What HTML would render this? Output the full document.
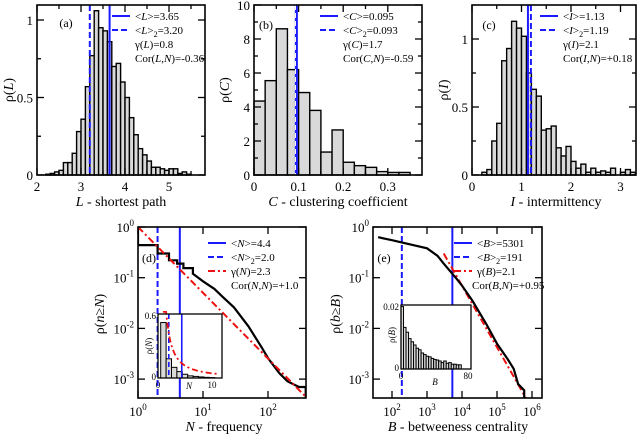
<!DOCTYPE html>
<html><head><meta charset="utf-8"><style>
html,body{margin:0;padding:0;background:#fff;width:640px;height:434px;overflow:hidden}
svg{font-family:"Liberation Serif",serif}
</style></head><body>
<svg id="fig" width="640" height="434" xmlns="http://www.w3.org/2000/svg"></svg>
<script>
// ---------- data ----------
const aStart = 2.2, aWidth = 0.1;
const aValues = [0.005,0.01,0.02,0.03,0.08,0.08,0.14,0.28,0.36,0.57,0.77,1.06,0.95,0.93,0.86,0.70,0.72,0.60,0.50,0.37,0.26,0.17,0.13,0.09,0.05,0.05,0.04,0.03,0.04,0.04,0.01,0.02,0.005];
const aMean = 3.65, aMean2 = 3.20;
const aXTicks = [2,3,4,5];
const aYTicks = [0,0.5,1];

const bStart = 0, bWidth = 0.025;
const bValues = [4.35,5.55,8.6,6.2,4.85,3.8,1.35,2.65,0.75,0.55,0.45,0.2,0.15,0.15];
const bMean = 0.095, bMean2 = 0.093;
const bXTicks = [0,0.1,0.2,0.3];
const bYTicks = [0,2,4,6,8,10];

const cStart = 0.2, cWidth = 0.1;
const cValues = [0.02,0.04,0.25,0.38,0.84,0.93,1.13,1.08,1.02,0.75,0.63,0.58,0.33,0.34,0.36,0.2,0.14,0.21,0.1,0.05,0.08,0.02,0.05,0.02,0.03,0.02,0.05,0.0,0.02,0.04,0.02];
const cMean = 1.13, cMean2 = 1.19;
const cXTicks = [0,1,2,3];
const cYTicks = [0,0.5,1];

const dN = [1,1,2,2,3,3,4,4,5,5,7,7,10,15,20,30,50,80,100,150,200,300,380,380];
const dP = [1,0.44,0.44,0.30,0.30,0.22,0.22,0.19,0.19,0.155,0.155,0.12,0.085,0.06,0.042,0.026,0.011,0.0042,0.0026,0.0013,0.0009,0.0007,0.0007,0.0004];
const dFitN = [1,380];
const dFitP = [1,0.00045];
const dMean = 4.4, dMean2 = 2.0;
const dInsetStart = 0.5, dInsetWidth = 1;
const dInsetValues = [0.52,0.18,0.1,0.06,0.035,0.02,0.015,0.01,0.006,0.004];

const eB = [40,100,300,1000,2000,3000,5000,7000,10000,20000,50000,100000,200000,300000,400000,600000,600000];
const eP = [0.63,0.55,0.46,0.38,0.27,0.19,0.125,0.095,0.07,0.035,0.012,0.005,0.0025,0.0016,0.0008,0.0006,0.00043];
const eFitB = [3000,700000];
const eFitP = [0.3,0.0004];
const eMean = 5301, eMean2 = 191;
const eInsetStart = 0, eInsetWidth = 3;
const eInsetValues = [0.0195,0.013,0.0115,0.0095,0.0085,0.0075,0.0065,0.006,0.005,0.0045,0.004,0.0038,0.0033,0.003,0.0028,0.0025,0.002,0.0025,0.0018,0.002,0.0015,0.0015,0.0013,0.0013];

// ---------- helpers ----------
const NS = "http://www.w3.org/2000/svg";
const svg = document.getElementById('fig');
function mk(tag, attrs, parent, text){
  const e = document.createElementNS(NS, tag);
  for (const k in attrs) e.setAttribute(k, attrs[k]);
  if (text !== undefined) e.textContent = text;
  (parent || svg).appendChild(e);
  return e;
}
function group(name){
  const g = mk('g', {});
  
  
  return g;
}
function frame(g, x0, y0, x1, y1){
  const r = mk('rect', {x:x0, y:y0, width:x1-x0, height:y1-y0, fill:'none', stroke:'#000', 'stroke-width':1.6}, g);
  
  
}
function tickLabel(g, x, y, txt, anchor, size){
  const t = mk('text', {x:x, y:y, 'text-anchor':anchor, 'font-size':size||13}, g, txt);
  
  
  return t;
}
function powLabel(g, x, y, exp, anchor){
  const t = mk('text', {x:x, y:y, 'text-anchor':anchor, 'font-size':13}, g);
  
  
  mk('tspan', {}, t, '10');
  mk('tspan', {dy:-6, 'font-size':9}, t, String(exp));
  return t;
}
function vline(g, x, y0, y1, color, dash, name, w){
  const l = mk('line', {x1:x, x2:x, y1:y0, y2:y1, stroke:color, 'stroke-width':w||2, 'stroke-dasharray':dash||'none'}, g);
  
  
}
function bars(g, start, width, vals, xs, ys, name, sw){
  vals.forEach((v,i)=>{
    const xa = xs(start + i*width), xb = xs(start + (i+1)*width);
    const r = mk('rect', {x:xa, y:ys(v), width:xb-xa, height:ys(0)-ys(v), fill:'#d9d9d9', stroke:'#000', 'stroke-width':sw||1.4}, g);
    
    
  });
}
function legend(g, x, y, lines){
  lines.forEach((L,i)=>{
    const yy = y + i*14;
    if (L.line){
      const l = mk('line', {x1:x, x2:x+18, y1:yy-4, y2:yy-4, stroke:L.color, 'stroke-width':2, 'stroke-dasharray':L.dash||'none'}, g);
      
      
    }
    const t = mk('text', {x:x+23+(L.off||0), y:yy, 'font-size':11}, g);
    t.innerHTML = L.html;
    
    
  });
}
function label(g, x, y, html, name, rot, size){
  const t = mk('text', {x:x, y:y, 'text-anchor':'middle', 'font-size':size||14}, g);
  if (rot) t.setAttribute('transform', `rotate(-90 ${x} ${y})`);
  t.innerHTML = html;
  
  
}
function xtick(g,x,y0,y1,len){ mk('line',{x1:x,x2:x,y1:y1,y2:y1-len,stroke:'#000','stroke-width':1.3},g); mk('line',{x1:x,x2:x,y1:y0,y2:y0+len,stroke:'#000','stroke-width':1.3},g); }
function ytick(g,y,x0,x1,len){ mk('line',{x1:x0,x2:x0+len,y1:y,y2:y,stroke:'#000','stroke-width':1.3},g); mk('line',{x1:x1,x2:x1-len,y1:y,y2:y,stroke:'#000','stroke-width':1.3},g); }

// ---------- panel a ----------
(function(){
  const g = group('panel-a');
  const X0=37,X1=205,Y0=5,Y1=175;
  const xs = v => X0 + (v-2)*44, ys = v => Y1 - v*155;
  bars(g, aStart, aWidth, aValues, xs, ys, 'histogram-bar');
  vline(g, xs(aMean2), Y0, Y1, '#1a1aff', '6,3', 'mean2-line');
  vline(g, xs(aMean), Y0, Y1, '#1a1aff', null, 'mean-line');
  frame(g,X0,Y0,X1,Y1);
  aXTicks.forEach(v=>{ xtick(g,xs(v),Y0,Y1,7); tickLabel(g,xs(v),191,String(v),'middle'); });
  [2.5,3.5,4.5,5.5].forEach(v=>xtick(g,xs(v),Y0,Y1,4));
  aYTicks.forEach(v=>{ ytick(g,ys(v),X0,X1,7); tickLabel(g,X0-4,ys(v)+5,String(v),'end'); });
  [0.25,0.75].forEach(v=>ytick(g,ys(v),X0,X1,4));
  label(g, 66, 27, '(a)', 'panel-label', false, 12);
  legend(g, 112, 20, [
    {line:true,color:'#1a1aff',html:'&lt;<tspan font-style="italic">L</tspan>&gt;=3.65'},
    {line:true,color:'#1a1aff',dash:'6,3',html:'&lt;<tspan font-style="italic">L</tspan>&gt;<tspan font-size="8" dy="3">2</tspan><tspan dy="-3">=3.20</tspan>'},
    {html:'γ(<tspan font-style="italic">L</tspan>)=0.8'},
    {html:'Cor(<tspan font-style="italic">L</tspan>,<tspan font-style="italic">N</tspan>)=-0.36'}]);
  label(g, 121, 206, '<tspan font-style="italic">L</tspan> -  shortest path', 'x-axis-title');
  label(g, 13, 90, 'ρ(<tspan font-style="italic">L</tspan>)', 'y-axis-title', true);
})();

// ---------- panel b ----------
(function(){
  const g = group('panel-b');
  const X0=254,X1=422,Y0=5,Y1=175;
  const xs = v => X0 + v*446, ys = v => Y1 - v*17;
  bars(g, bStart, bWidth, bValues, xs, ys, 'histogram-bar');
  vline(g, xs(bMean), Y0, Y1, '#1a1aff', null, 'mean-line', 3);
  vline(g, xs(bMean2), Y0, Y1, '#ffffff', '5,3', 'mean2-line', 1);
  frame(g,X0,Y0,X1,Y1);
  bXTicks.forEach(v=>{ xtick(g,xs(v),Y0,Y1,7); tickLabel(g,xs(v),191,String(v),'middle'); });
  [0.05,0.15,0.25].forEach(v=>xtick(g,xs(v),Y0,Y1,4));
  bYTicks.forEach(v=>{ ytick(g,ys(v),X0,X1,7); tickLabel(g,X0-4,ys(v)+5,String(v),'end'); });
  [1,3,5,7,9].forEach(v=>ytick(g,ys(v),X0,X1,4));
  label(g, 266, 29, '(b)', 'panel-label', false, 12);
  legend(g, 320, 20, [
    {line:true,color:'#1a1aff',html:'&lt;<tspan font-style="italic">C</tspan>&gt;=0.095'},
    {line:true,color:'#1a1aff',dash:'6,3',html:'&lt;<tspan font-style="italic">C</tspan>&gt;<tspan font-size="8" dy="3">2</tspan><tspan dy="-3">=0.093</tspan>'},
    {html:'γ(<tspan font-style="italic">C</tspan>)=1.7'},
    {html:'Cor(<tspan font-style="italic">C</tspan>,<tspan font-style="italic">N</tspan>)=-0.59'}]);
  label(g, 338, 206, '<tspan font-style="italic">C</tspan> - clustering coefficient', 'x-axis-title');
  label(g, 229, 90, 'ρ(<tspan font-style="italic">C</tspan>)', 'y-axis-title', true);
})();

// ---------- panel c ----------
(function(){
  const g = group('panel-c');
  const X0=472,X1=636,Y0=5,Y1=175;
  const xs = v => X0 + v*49.5, ys = v => Y1 - v*136;
  bars(g, cStart, cWidth, cValues, xs, ys, 'histogram-bar');
  vline(g, xs(cMean2), Y0, Y1, '#1a1aff', '6,3', 'mean2-line');
  vline(g, xs(cMean), Y0, Y1, '#1a1aff', null, 'mean-line');
  frame(g,X0,Y0,X1,Y1);
  cXTicks.forEach(v=>{ xtick(g,xs(v),Y0,Y1,7); tickLabel(g,xs(v),191,String(v),'middle'); });
  [0.5,1.5,2.5].forEach(v=>xtick(g,xs(v),Y0,Y1,4));
  cYTicks.forEach(v=>{ ytick(g,ys(v),X0,X1,7); tickLabel(g,X0-4,ys(v)+5,String(v),'end'); });
  [0.25,0.75].forEach(v=>ytick(g,ys(v),X0,X1,4));
  label(g, 489, 29, '(c)', 'panel-label', false, 12);
  legend(g, 540, 20, [
    {line:true,color:'#1a1aff',html:'&lt;<tspan font-style="italic">I</tspan>&gt;=1.13'},
    {line:true,color:'#1a1aff',dash:'6,3',html:'&lt;<tspan font-style="italic">I</tspan>&gt;<tspan font-size="8" dy="3">2</tspan><tspan dy="-3">=1.19</tspan>'},
    {html:'γ(<tspan font-style="italic">I</tspan>)=2.1'},
    {html:'Cor(<tspan font-style="italic">I</tspan>,<tspan font-style="italic">N</tspan>)=+0.18'}]);
  label(g, 556, 206, '<tspan font-style="italic">I</tspan> - intermittency', 'x-axis-title');
  label(g, 448, 90, 'ρ(<tspan font-style="italic">I</tspan>)', 'y-axis-title', true);
})();

function logPath(g, xsArr, ysArr, xs, ys, color, w, dash, name){
  const d = xsArr.map((v,i)=>(i?'L':'M')+xs(v).toFixed(1)+','+ys(ysArr[i]).toFixed(1)).join(' ');
  const p = mk('path', {d:d, fill:'none', stroke:color, 'stroke-width':w, 'stroke-dasharray':dash||'none'}, g);
  
  
}

// ---------- panel d ----------
(function(){
  const g = group('panel-d');
  const X0=138,X1=306,Y0=227,Y1=398;
  const xs = v => X0 + Math.log10(v)*65, ys = v => Y0 - Math.log10(v)*50.7;
  const cp = mk('clipPath',{id:'clipd'}); mk('rect',{x:X0,y:Y0,width:X1-X0,height:Y1-Y0},cp);
  const gc = mk('g',{'clip-path':'url(#clipd)'},g);
  vline(gc, xs(dMean2), Y0, Y1, '#1a1aff', '6,3', 'mean2-line');
  vline(gc, xs(dMean), Y0, Y1, '#1a1aff', null, 'mean-line');
  logPath(gc, dN, dP, xs, ys, '#000', 2.2, null, 'ccdf-line');
  logPath(gc, dFitN, dFitP, xs, ys, '#ee1111', 2, '7,3,2,3', 'power-law-fit');
  frame(g,X0,Y0,X1,Y1);
  [0,1,2].forEach(e=>{ xtick(g,xs(Math.pow(10,e)),Y0,Y1,7); powLabel(g,xs(Math.pow(10,e)),416,e,'middle'); });
  [0,-1,-2,-3].forEach(e=>{ ytick(g,ys(Math.pow(10,e)),X0,X1,7); powLabel(g,X0-4,ys(Math.pow(10,e))+5,e,'end'); });
  label(g, 149, 262, '(d)', 'panel-label', false, 12);
  const IX0=158,IX1=222,IY0=314,IY1=378;
  const ixs = v => IX0 + v*5.4, iys = v => IY1 - v*(64/0.6);
  const gi = group('inset-d');
  mk('rect',{x:IX0,y:IY0,width:IX1-IX0,height:IY1-IY0,fill:'#fff'},gi);
  bars(gi, dInsetStart, dInsetWidth, dInsetValues, ixs, iys, 'inset-bar', 1);
  vline(gi, ixs(dMean2), IY0, IY1, '#1a1aff', '5,3', 'inset-mean2-line', 1.6);
  vline(gi, ixs(dMean), IY0, IY1, '#1a1aff', null, 'inset-mean-line', 1.6);
  const fx=[], fy=[];
  for (let n=0.9;n<=11.3;n+=0.2){ fx.push(n); fy.push(Math.min(0.62, 0.6*Math.pow(n/1.6,-1.4)*0.95)); }
  const d = fx.map((v,i)=>(i?'L':'M')+ixs(v).toFixed(1)+','+iys(fy[i]).toFixed(1)).join(' ');
  const p = mk('path',{d:d,fill:'none',stroke:'#ee1111','stroke-width':1.8,'stroke-dasharray':'6,3,2,3'},gi);
  
  
  mk('rect',{x:IX0,y:IY0,width:IX1-IX0,height:IY1-IY0,fill:'none',stroke:'#000','stroke-width':1.3},gi);
  tickLabel(gi, IX0-2, IY0+5, '0.6', 'end', 9);
  tickLabel(gi, IX0-2, IY1+2, '0', 'end', 9);
  tickLabel(gi, IX0, IY1+10, '0', 'middle', 9);
  tickLabel(gi, ixs(10), IY1+10, '10', 'middle', 9);
  label(gi, 189, IY1+11, '<tspan font-style="italic">N</tspan>', 'inset-x-title', false, 9);
  label(gi, 152, 346, 'ρ(<tspan font-style="italic">N</tspan>)', 'inset-y-title', true, 9);
  legend(g, 208, 247, [
    {line:true,color:'#1a1aff',html:'&lt;<tspan font-style="italic">N</tspan>&gt;=4.4'},
    {line:true,color:'#1a1aff',dash:'6,3',html:'&lt;<tspan font-style="italic">N</tspan>&gt;<tspan font-size="8" dy="3">2</tspan><tspan dy="-3">=2.0</tspan>'},
    {line:true,color:'#ee1111',dash:'7,3,2,3',html:'γ(<tspan font-style="italic">N</tspan>)=2.3'},
    {html:'Cor(<tspan font-style="italic">N</tspan>,<tspan font-style="italic">N</tspan>)=+1.0'}]);
  label(g, 224, 431, '<tspan font-style="italic">N</tspan>  - frequency', 'x-axis-title');
  label(g, 104, 314, 'ρ(<tspan font-style="italic">n</tspan>≥<tspan font-style="italic">N</tspan>)', 'y-axis-title', true);
})();

// ---------- panel e ----------
(function(){
  const g = group('panel-e');
  const X0=373,X1=542,Y0=227,Y1=398;
  const xs = v => 322 + Math.log10(v)*35, ys = v => Y0 - Math.log10(v)*50.7;
  const cp = mk('clipPath',{id:'clipe'}); mk('rect',{x:X0,y:Y0,width:X1-X0,height:Y1-Y0},cp);
  const gc = mk('g',{'clip-path':'url(#clipe)'},g);
  vline(gc, xs(eMean2), Y0, Y1, '#1a1aff', '6,3', 'mean2-line');
  vline(gc, xs(eMean), Y0, Y1, '#1a1aff', null, 'mean-line');
  logPath(gc, eFitB, eFitP, xs, ys, '#ee1111', 2, '7,3,2,3', 'power-law-fit');
  logPath(gc, eB, eP, xs, ys, '#000', 2.2, null, 'ccdf-line');
  frame(g,X0,Y0,X1,Y1);
  [2,3,4,5,6].forEach(e=>{ xtick(g,xs(Math.pow(10,e)),Y0,Y1,7); powLabel(g,xs(Math.pow(10,e)),416,e,'middle'); });
  [0,-1,-2,-3].forEach(e=>{ ytick(g,ys(Math.pow(10,e)),X0,X1,7); powLabel(g,X0-4,ys(Math.pow(10,e))+5,e,'end'); });
  label(g, 384, 262, '(e)', 'panel-label', false, 12);
  const IX0=401,IX1=471,IY0=305,IY1=369;
  const ixs = v => IX0 + v*(67/80), iys = v => IY1 - v*(64/0.02);
  const gi = group('inset-e');
  mk('rect',{x:IX0,y:IY0,width:IX1-IX0,height:IY1-IY0,fill:'#fff'},gi);
  bars(gi, eInsetStart, eInsetWidth, eInsetValues, ixs, iys, 'inset-bar', 1);
  mk('rect',{x:IX0,y:IY0,width:IX1-IX0,height:IY1-IY0,fill:'none',stroke:'#000','stroke-width':1.3},gi);
  tickLabel(gi, IX0-2, IY0+5, '0.02', 'end', 9);
  tickLabel(gi, IX0-2, IY1+2, '0', 'end', 9);
  tickLabel(gi, IX0, IY1+10, '0', 'middle', 9);
  tickLabel(gi, ixs(80), IY1+10, '80', 'middle', 9);
  label(gi, 435, IY1+16, '<tspan font-style="italic">B</tspan>', 'inset-x-title', false, 9);
  label(gi, 395, 335, 'ρ(<tspan font-style="italic">B</tspan>)', 'inset-y-title', true, 9);
  legend(g, 454, 247, [
    {line:true,color:'#1a1aff',html:'&lt;<tspan font-style="italic">B</tspan>&gt;=5301'},
    {line:true,color:'#1a1aff',dash:'6,3',html:'&lt;<tspan font-style="italic">B</tspan>&gt;<tspan font-size="8" dy="3">2</tspan><tspan dy="-3">=191</tspan>'},
    {line:true,color:'#ee1111',dash:'7,3,2,3',html:'γ(<tspan font-style="italic">B</tspan>)=2.1'},
    {html:'Cor(<tspan font-style="italic">B</tspan>,<tspan font-style="italic">N</tspan>)=+0.95', off:-5}]);
  label(g, 458, 431, '<tspan font-style="italic">B</tspan> - betweeness centrality', 'x-axis-title');
  label(g, 340, 314, 'ρ(<tspan font-style="italic">b</tspan>≥<tspan font-style="italic">B</tspan>)', 'y-axis-title', true);
})();
</script>
</body></html>
